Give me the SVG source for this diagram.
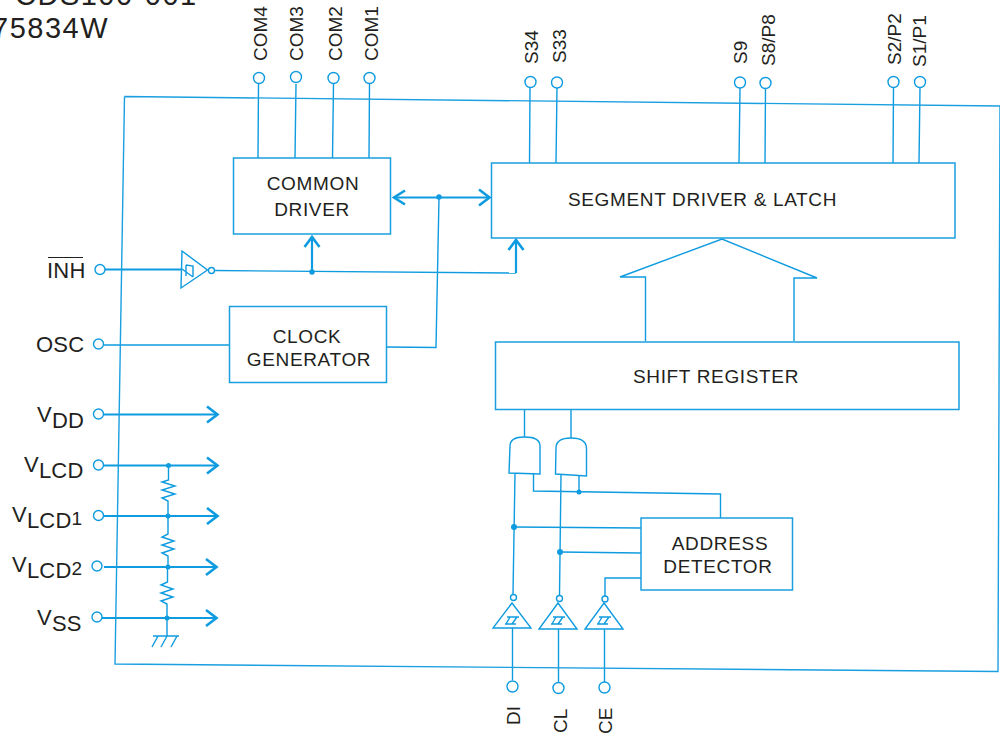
<svg xmlns="http://www.w3.org/2000/svg" width="1000" height="735" viewBox="0 0 1000 735">
<style>
.l{fill:none;stroke:#0f9bdf;stroke-width:1.4}
.t{fill:none;stroke:#0f9bdf;stroke-width:2.2}
.h{fill:none;stroke:#0f9bdf;stroke-width:2.6}
.b{fill:#fff;stroke:#1a9fe0;stroke-width:1.5}
.p{fill:#fff;stroke:#0f9bdf;stroke-width:1.4}
.d{fill:#0f9bdf}
text{font-family:"Liberation Sans",Arial,sans-serif;fill:#231f20;font-size:19px;letter-spacing:.65px}
.c{text-anchor:middle}
.s{font-size:19px;letter-spacing:0}
.u{font-size:22px;letter-spacing:.2px}
.n{font-size:19px}
.k{font-size:29px;letter-spacing:1.500px}
</style>
<defs>
<marker id="a" markerWidth="14" markerHeight="20" refX="12.500" refY="10" orient="auto" markerUnits="userSpaceOnUse"><path d="M1.500 2L12 10L1.500 18" fill="none" stroke="#0f9bdf" stroke-width="2.600"/></marker>
</defs>
<text class="k" x="15" y="5">CDS100-001</text>
<text class="k" x="-8" y="38">75834W</text>
<path class="l" style="stroke:#1a9fe0" d="M124.500 96.500L1000 106M124.500 96.500L115 664L998 671.500L1000 106"/>
<g id="connectors">
<path class="l" d="M258.500 84L258 158M296 84L295 158M333.500 84L332.500 158M369.500 84L369 158"/>
<path class="l" d="M530 88L529.500 163M557 88L556 163M740 88L739 163M765.500 88L765 163M893.500 88L893 163M920 88L919 163"/>
<path class="t" marker-end="url(#a)" d="M395 197.500H490"/>
<path class="h" d="M405 190.500L394 197.500L405 204.500"/>
<path class="l" d="M387 347L436 347.500L439 197.500"/>
<circle class="d" cx="439" cy="197" r="2.700"/>
<path class="l" style="stroke-width:1.800" d="M105 269.500H182"/>
<path class="l" d="M214 270.500L516 273"/>
<path class="t" d="M312 272V238M516 273V241"/>
<path class="h" d="M304.500 247L312 237L319.500 247M508.500 250L516 240L523.500 250"/>
<circle class="d" cx="312" cy="272" r="2.700"/>
<path class="l" style="stroke-width:1.600" d="M104 345H230"/>
<path class="l" d="M645.500 341V277H620L722 239L817 278H794V341"/>
<path class="l" d="M524.500 410V437M571 410V438"/>
<path class="l" d="M515 474L513 594M561 475L559.500 595M533.500 474V491L720.500 494V518M579 476V492"/>
<circle class="d" cx="579" cy="492" r="2.500"/>
<path class="l" d="M514 527L641 528M560 552L641 553"/>
<circle class="d" cx="514" cy="527" r="3"/><circle class="d" cx="560" cy="552" r="3"/>
<path class="l" d="M605 596V578H641M512.500 628V680M558.500 629V682M604.500 629V682"/>
<path class="t" marker-end="url(#a)" d="M104 414.500H218"/>
<path class="t" marker-end="url(#a)" d="M104 465.500H218"/>
<path class="t" marker-end="url(#a)" d="M104 516H218"/>
<path class="t" marker-end="url(#a)" d="M104 567H217"/>
<path class="t" marker-end="url(#a)" d="M102 618H217"/>
<path class="l" d="M168.500 465V480L162 482L175 486L162 490L175 494L162 498L168 501V516M168 516V534L162 537L174 541L162 545L174 549L162 553L168 556V567M167.500 567V582L161 585L173 589L161 593L173 597L161 601L167 604V636M153 636H179M158 636L152 647M167 636L161 647M177 636L171 647"/>
<circle class="d" cx="168.500" cy="465.500" r="2.500"/><circle class="d" cx="168" cy="516" r="2.500"/><circle class="d" cx="168" cy="567" r="2.500"/><circle class="d" cx="167" cy="618" r="2.500"/>
</g>
<g id="common-driver"><rect class="b" x="233.500" y="158" width="157" height="76"/><text class="c" x="313" y="190">COMMON</text><text class="c" x="312" y="216">DRIVER</text></g>
<g id="segment-driver"><rect class="b" x="491.500" y="163" width="463.500" height="75"/><text class="c" x="702.500" y="206">SEGMENT DRIVER &amp; LATCH</text></g>
<g id="clock-generator"><rect class="b" x="229.500" y="306.500" width="157" height="76"/><text class="c" x="307" y="343">CLOCK</text><text class="c" x="309" y="366">GENERATOR</text></g>
<g id="shift-register"><rect class="b" x="495.500" y="342" width="463.500" height="67.500"/><text class="c" x="716" y="383">SHIFT REGISTER</text></g>
<g id="address-detector"><rect class="b" x="641" y="518" width="151.500" height="72"/><text class="c" x="720" y="550">ADDRESS</text><text class="c" x="718" y="573">DETECTOR</text></g>
<g id="and1"><path class="p" d="M509 473L510 446Q510 437 524.500 437Q540 437 540 446V474Z"/></g>
<g id="and2"><path class="p" d="M555.500 474L556 448Q556 438 571 438Q586 438 586.500 448V476Z"/></g>
<g id="inh-buffer"><path class="p" d="M182 251L207.500 270L181 288Z"/><path class="l" d="M186 265L193 266V277M186 265V276M182 269L193 277"/><circle class="p" cx="211.500" cy="270.500" r="3"/></g>
<g id="di-buffer"><path class="p" d="M512 603L531 628H493Z"/><path class="l" d="M507 617H519M517 617L512 624M505 624H516M510 617L506 624"/><circle class="p" cx="513.500" cy="597.500" r="3"/></g>
<g id="cl-buffer"><path class="p" d="M558 603L577 629H539Z"/><path class="l" d="M553 617H565M563 617L558 624M551 624H562M556 617L552 624"/><circle class="p" cx="559.500" cy="598.500" r="3"/></g>
<g id="ce-buffer"><path class="p" d="M604 603L623 629H585Z"/><path class="l" d="M599 617H611M609 617L604 624M597 624H608M602 617L598 624"/><circle class="p" cx="605" cy="599" r="3"/></g>
<g id="pins">
<circle class="p" cx="259" cy="78" r="5.500"/><circle class="p" cx="296" cy="77" r="5.500"/><circle class="p" cx="333.500" cy="78" r="5.500"/><circle class="p" cx="369.500" cy="78" r="5.500"/>
<circle class="p" cx="530.500" cy="82" r="5.500"/><circle class="p" cx="557" cy="82.500" r="5.500"/><circle class="p" cx="740" cy="82.500" r="5.500"/><circle class="p" cx="765.500" cy="83" r="5.500"/><circle class="p" cx="893.500" cy="82" r="5.500"/><circle class="p" cx="920" cy="82" r="5.500"/>
<circle class="p" cx="100" cy="269.500" r="5"/><circle class="p" cx="98.500" cy="344" r="5"/><circle class="p" cx="98.500" cy="414" r="5"/><circle class="p" cx="98.500" cy="465" r="5"/><circle class="p" cx="98.500" cy="515.500" r="5"/><circle class="p" cx="97" cy="566" r="5"/><circle class="p" cx="97" cy="617" r="5"/>
<circle class="p" cx="512.500" cy="686.500" r="5.500"/><circle class="p" cx="558.500" cy="688" r="5.500"/><circle class="p" cx="604.500" cy="687.500" r="5.500"/>
</g>
<g id="pin-labels">
<text class="s" transform="translate(267 61) rotate(-90)">COM4</text>
<text class="s" transform="translate(303 61) rotate(-90)">COM3</text>
<text class="s" transform="translate(342 61) rotate(-90)">COM2</text>
<text class="s" transform="translate(378 61) rotate(-90)">COM1</text>
<text class="s" transform="translate(538 64) rotate(-90)">S34</text>
<text class="s" transform="translate(565.500 63) rotate(-90)">S33</text>
<text class="s" transform="translate(747 64) rotate(-90)">S9</text>
<text class="s" transform="translate(774.500 66) rotate(-90)">S8/P8</text>
<text class="s" transform="translate(900.500 65) rotate(-90)">S2/P2</text>
<text class="s" transform="translate(926 67) rotate(-90)">S1/P1</text>
<text class="s" transform="translate(520 725) rotate(-90)">DI</text>
<text class="s" transform="translate(566.500 733) rotate(-90)">CL</text>
<text class="s" transform="translate(612 734) rotate(-90)">CE</text>
<text class="u" x="47" y="278">INH</text><path d="M48 257.500H83" stroke="#231f20" stroke-width="1.200"/>
<text class="u" x="36" y="352">OSC</text>
<text class="u" x="37" y="422">V<tspan dy="6">DD</tspan></text>
<text class="u" x="24" y="472">V<tspan dy="6">LCD</tspan></text>
<text class="u" x="12" y="522">V<tspan dy="6">LCD</tspan><tspan class="n" dy="-3">1</tspan></text>
<text class="u" x="12" y="572">V<tspan dy="6">LCD</tspan><tspan class="n" dy="-3">2</tspan></text>
<text class="u" x="37" y="625">V<tspan dy="6">SS</tspan></text>
</g>
</svg>
